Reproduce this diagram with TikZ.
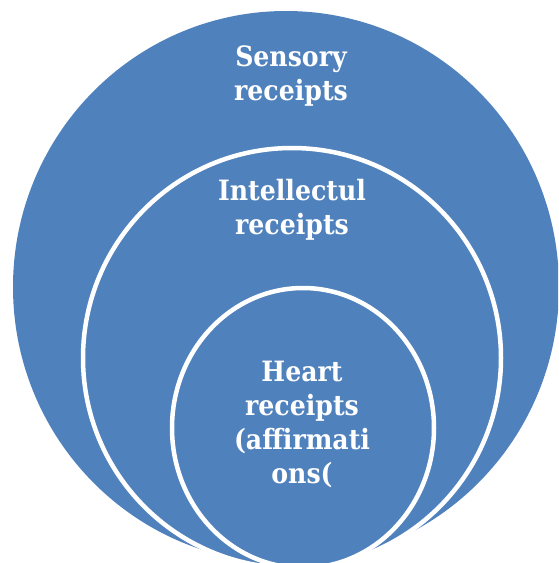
\documentclass[tikz,border=0pt]{standalone}
\usepackage{fontspec}
\setmainfont{DejaVu Serif Condensed}
\usetikzlibrary{positioning}
\definecolor{RingBlue}{RGB}{79,129,189}

\begin{document}
\begin{tikzpicture}[
    x=1pt, y=-1pt,
    disc/.style={fill=RingBlue},
    ring/.style={fill=RingBlue, draw=white, line width=4.5pt},
    ringtext/.style={text=white, align=center, inner sep=0pt,
      font=\fontsize{28}{34}\selectfont\bfseries}
  ]
    \useasboundingbox (0,0) rectangle (558,563);
    \clip (0,0) rectangle (558,563);
    % nested circles, all meeting near the bottom
    \path[disc] (286,287) ellipse [x radius=273, y radius=276];
    \path[ring] (292,358) ellipse [x radius=209, y radius=210];
    \path[ring] (303,428) ellipse [x radius=131, y radius=140];
    % captions
    \node[ringtext] (sensory) at (291,76) {Sensory\\receipts};
    \node[ringtext] (intellect) at (292,210) {Intellectul\\receipts};
    \node[ringtext] (heart) at (302,424) {Heart\\receipts\\(affirmati\\ons(};
  \end{tikzpicture}
\end{document}
